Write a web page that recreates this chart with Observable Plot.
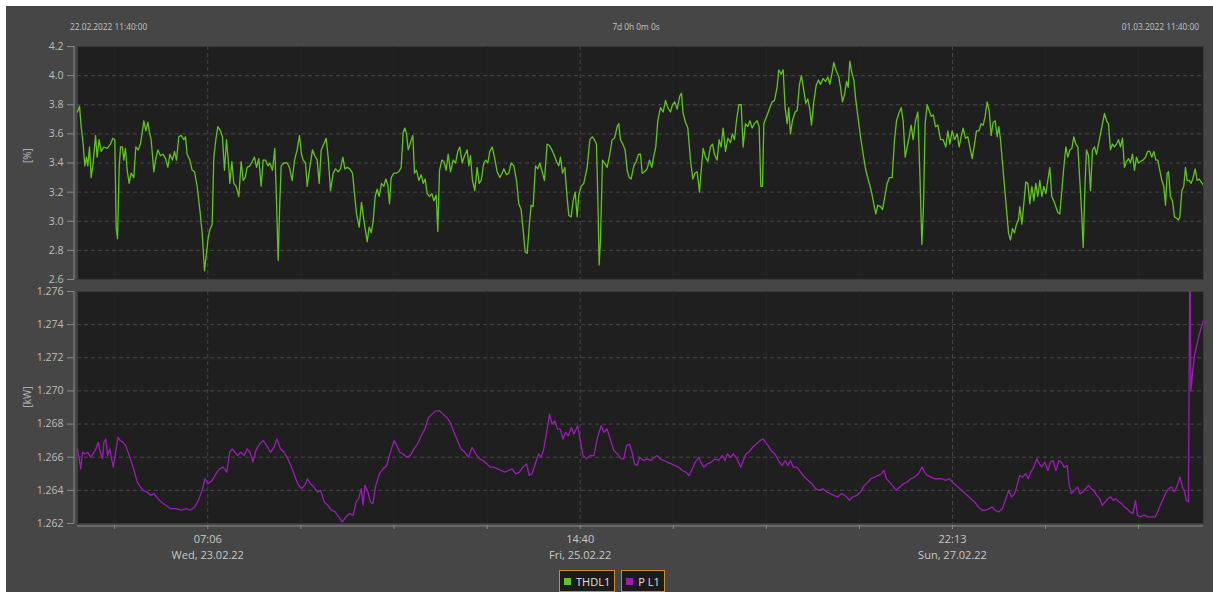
<!DOCTYPE html>
<html><head><meta charset="utf-8">
<script src="https://cdn.jsdelivr.net/npm/d3@7"></script>
<script src="https://cdn.jsdelivr.net/npm/@observablehq/plot@0.6"></script>
<style>
body{margin:0;background:#fff;width:1213px;height:592px;overflow:hidden;position:relative;font-family:"Segoe UI","Open Sans","Noto Sans",sans-serif;}
#bg{position:absolute;left:6px;top:6px;width:1207px;height:586px;background:#464646;}
.hdr{position:absolute;top:21px;font-size:8.3px;color:#c4c4c4;white-space:nowrap;line-height:12px;}
#top,#bottom{position:absolute;left:0;}
#top{top:0}#bottom{top:282px}
#legend{position:absolute;left:559px;top:570px;display:flex;gap:6px;}
.item{box-sizing:border-box;height:22px;border:1.5px solid #c98a2c;background:#1b1b1b;color:#e0e0e0;font-size:11px;display:flex;align-items:center;padding:0 4px;gap:5px;}
.sw{width:7px;height:7px;display:inline-block}
</style></head>
<body>
<div id="bg"></div>
<div id="top"></div>
<div id="bottom"></div>
<div class="hdr" id="hStart" style="left:70px"></div>
<div class="hdr" id="hSpan" style="left:636px;transform:translateX(-50%)"></div>
<div class="hdr" id="hEnd" style="right:14px"></div>
<div id="legend"></div>
<script>
// ---------- data ----------
const startTime = "2022-02-22T11:40:00Z";
const endTime = "2022-03-01T11:40:00Z";
const headerTexts = ["22.02.2022 11:40:00", "7d 0h 0m 0s", "01.03.2022 11:40:00"];
const seriesNames = ["THDL1", "P L1"];
const seriesUnits = ["[%]", "[kW]"];
const seriesColors = ["#62c41e", "#9b1db6"];
const thdTicks = [2.6, 2.8, 3.0, 3.2, 3.4, 3.6, 3.8, 4.0, 4.2];
const pTicks = [1.262, 1.264, 1.266, 1.268, 1.270, 1.272, 1.274, 1.276];
const majorTickTimes = ["2022-02-23T07:06:00Z", "2022-02-25T14:40:00Z", "2022-02-27T22:13:00Z"];
const majorTickLabels = ["07:06\nWed, 23.02.22", "14:40\nFri, 25.02.22", "22:13\nSun, 27.02.22"];
const minorTickTimes = ["2022-02-22T17:13:00Z", "2022-02-23T21:00:00Z", "2022-02-24T10:53:00Z", "2022-02-25T00:47:00Z",
  "2022-02-26T04:33:00Z", "2022-02-26T18:26:00Z", "2022-02-27T08:20:00Z", "2022-02-28T12:06:00Z", "2022-03-01T01:59:00Z"];
// [hours since start, THD %]
const thd = [
[0,3.75],[0.30,3.79],[0.55,3.65],[0.85,3.53],[1.09,3.38],[1.34,3.44],[1.54,3.38],[1.79,3.51],[2.04,3.30],[2.34,3.40],[2.69,3.59],[2.93,3.44],[3.23,3.56],[3.53,3.48],[3.93,3.51],[4.43,3.50],[4.92,3.53],[5.27,3.57],[5.57,3.56],[5.77,2.96],[5.97,2.88],[6.22,3.37],[6.42,3.51],[6.71,3.51],[6.91,3.42],[7.16,3.50],[7.41,3.35],[7.71,3.26],[8.01,3.33],[8.40,3.30],[8.70,3.51],[9.05,3.49],[9.40,3.53],[9.90,3.69],[10.20,3.62],[10.49,3.68],[10.74,3.61],[10.99,3.56],[11.39,3.34],[11.64,3.42],[11.99,3.49],[12.38,3.45],[12.78,3.46],[13.13,3.43],[13.48,3.37],[13.78,3.46],[14.17,3.42],[14.47,3.48],[14.77,3.42],[15.12,3.58],[15.47,3.59],[15.87,3.56],[16.11,3.58],[16.36,3.46],[16.76,3.42],[17.11,3.35],[17.46,3.34],[17.85,3.24],[18.25,3.08],[18.60,2.92],[18.95,2.66],[19.25,2.78],[19.45,2.87],[19.74,2.94],[20.09,2.98],[20.34,3.44],[20.64,3.56],[20.94,3.65],[21.34,3.62],[21.63,3.58],[21.93,3.35],[22.23,3.56],[22.53,3.40],[22.73,3.26],[23.03,3.41],[23.32,3.26],[23.67,3.24],[24.07,3.17],[24.42,3.41],[24.72,3.28],[25.02,3.30],[25.31,3.37],[25.71,3.38],[26.06,3.41],[26.41,3.44],[26.71,3.37],[27.05,3.43],[27.40,3.24],[27.70,3.42],[28.05,3.42],[28.40,3.38],[28.70,3.40],[29.09,3.35],[29.44,3.50],[29.69,3.14],[29.94,2.73],[30.19,3.14],[30.39,3.38],[30.79,3.40],[31.28,3.40],[31.63,3.37],[32.03,3.28],[32.38,3.42],[32.77,3.49],[33.12,3.59],[33.42,3.46],[33.67,3.42],[34.02,3.40],[34.27,3.24],[34.66,3.37],[35.06,3.49],[35.41,3.45],[35.76,3.42],[36.06,3.26],[36.36,3.49],[36.75,3.53],[37.10,3.57],[37.40,3.44],[37.75,3.21],[38.15,3.33],[38.49,3.36],[38.89,3.34],[39.24,3.36],[39.59,3.44],[39.89,3.36],[40.24,3.37],[40.63,3.36],[41.03,3.33],[41.33,3.19],[41.63,3.05],[42.03,2.96],[42.37,3.13],[42.72,3.01],[43.02,2.92],[43.22,2.86],[43.52,2.96],[43.82,2.92],[44.11,3.00],[44.41,3.17],[44.71,3.22],[45.01,3.17],[45.36,3.26],[45.71,3.24],[46.00,3.29],[46.30,3.25],[46.55,3.12],[46.80,3.30],[47.20,3.33],[47.55,3.33],[47.94,3.34],[48.29,3.37],[48.59,3.61],[48.84,3.64],[49.09,3.60],[49.34,3.49],[49.68,3.54],[50.03,3.59],[50.28,3.33],[50.58,3.35],[50.93,3.28],[51.28,3.32],[51.57,3.26],[51.87,3.29],[52.17,3.19],[52.52,3.17],[52.87,3.19],[53.17,3.14],[53.51,3.18],[53.76,2.93],[54.01,3.35],[54.36,3.42],[54.66,3.41],[55.01,3.35],[55.30,3.46],[55.65,3.34],[56.05,3.42],[56.40,3.40],[56.75,3.48],[57.04,3.51],
[57.39,3.40],[57.74,3.45],[58.14,3.49],[58.39,3.38],[58.63,3.45],[58.93,3.28],[59.28,3.21],[59.63,3.37],[59.93,3.26],[60.23,3.28],[60.62,3.40],[60.92,3.42],[61.22,3.40],[61.52,3.48],[61.87,3.51],[62.21,3.44],[62.61,3.34],[63.01,3.30],[63.36,3.33],[63.61,3.36],[64.00,3.32],[64.35,3.33],[64.70,3.40],[65.10,3.38],[65.50,3.28],[65.84,3.12],[66.19,3.08],[66.49,2.94],[66.79,2.79],[67.09,2.78],[67.39,2.96],[67.68,3.11],[67.98,3.10],[68.33,3.38],[68.68,3.36],[68.98,3.40],[69.33,3.34],[69.67,3.28],[70.07,3.53],[70.42,3.52],[70.77,3.49],[71.07,3.46],[71.46,3.41],[71.81,3.38],[72.06,3.44],[72.36,3.33],[72.71,3.37],[72.96,3.21],[73.30,3.04],[73.65,3.03],[73.95,3.14],[74.25,3.20],[74.55,3.03],[74.80,3.18],[75.14,3.24],[75.54,3.26],[76.04,3.37],[76.44,3.56],[76.79,3.58],[77.13,3.56],[77.43,3.53],[77.63,3.17],[77.83,2.70],[78.03,2.87],[78.33,3.42],[78.63,3.40],[79.02,3.37],[79.42,3.46],[79.77,3.56],[80.12,3.57],[80.52,3.65],[80.76,3.67],[81.01,3.56],[81.36,3.53],[81.71,3.49],[82.01,3.35],[82.31,3.30],[82.60,3.29],[83.00,3.38],[83.35,3.41],[83.70,3.46],[84.00,3.46],[84.25,3.33],[84.59,3.34],[84.99,3.36],[85.34,3.42],[85.69,3.37],[85.99,3.45],[86.28,3.51],[86.58,3.69],[86.98,3.78],[87.38,3.75],[87.73,3.83],[88.07,3.78],[88.47,3.75],[88.77,3.80],[89.12,3.82],[89.47,3.77],[89.86,3.86],[90.11,3.88],[90.36,3.74],[90.71,3.68],[91.06,3.64],[91.46,3.42],[91.80,3.29],[92.10,3.33],[92.45,3.34],[92.80,3.20],[93.10,3.37],[93.35,3.50],[93.69,3.44],[94.04,3.41],[94.44,3.51],[94.74,3.53],[95.04,3.46],[95.43,3.42],[95.73,3.56],[96.03,3.51],[96.33,3.64],[96.68,3.48],[97.03,3.57],[97.42,3.54],[97.72,3.60],[98.02,3.56],[98.32,3.69],[98.67,3.80],[99.02,3.80],[99.31,3.51],[99.66,3.67],[100.01,3.65],[100.31,3.69],[100.66,3.64],[101.00,3.67],[101.40,3.69],[101.70,3.65],[101.95,3.24],[102.20,3.24],[102.40,3.67],[102.64,3.70],[102.99,3.74],[103.29,3.78],[103.64,3.82],[103.99,3.83],[104.38,3.92],[104.63,4.04],[104.98,4.01],[105.28,4.04],[105.58,3.78],[105.88,3.67],[106.12,3.78],[106.37,3.60],[106.67,3.69],[107.07,3.75],[107.37,3.76],[107.72,3.94],[108.01,4.00],[108.36,3.90],[108.66,3.81],[108.96,3.84],[109.26,3.77],[109.51,3.66],[109.85,3.82],[110.20,3.93],[110.55,3.97],[110.85,3.94],[111.25,3.98],[111.60,3.96],[111.95,3.99],[112.24,3.94],[112.59,4.02],[112.84,4.09],[113.14,4.04],[113.44,4.01],
[113.59,3.99],[113.84,3.92],[114.14,3.82],[114.44,3.87],[114.74,3.96],[114.99,3.92],[115.23,4.10],[115.53,4.02],[115.83,3.97],[116.13,3.83],[116.43,3.72],[116.83,3.58],[117.22,3.46],[117.62,3.35],[118.02,3.28],[118.42,3.21],[118.81,3.12],[119.11,3.05],[119.41,3.11],[119.81,3.10],[120.11,3.08],[120.46,3.17],[120.80,3.26],[121.15,3.30],[121.55,3.30],[121.90,3.56],[122.20,3.69],[122.54,3.74],[122.89,3.78],[123.19,3.69],[123.49,3.44],[123.79,3.51],[124.09,3.58],[124.38,3.66],[124.68,3.56],[125.03,3.69],[125.38,3.75],[125.68,3.33],[125.98,2.84],[126.22,3.10],[126.47,3.67],[126.77,3.80],[127.07,3.76],[127.37,3.72],[127.67,3.73],[128.01,3.65],[128.36,3.66],[128.76,3.56],[129.16,3.56],[129.56,3.51],[129.85,3.62],[130.15,3.53],[130.50,3.62],[130.85,3.56],[131.25,3.60],[131.55,3.51],[131.84,3.58],[132.14,3.64],[132.49,3.57],[132.84,3.58],[133.14,3.51],[133.49,3.43],[133.83,3.53],[134.13,3.62],[134.48,3.62],[134.83,3.67],[135.13,3.66],[135.42,3.72],[135.72,3.82],[136.02,3.76],[136.32,3.59],[136.62,3.68],[136.92,3.69],[137.22,3.58],[137.46,3.65],[137.71,3.56],[138.01,3.40],[138.31,3.24],[138.61,3.08],[138.91,2.92],[139.20,2.87],[139.50,2.95],[139.80,2.92],[140.10,2.98],[140.40,3.01],[140.60,3.10],[140.90,2.98],[141.19,3.12],[141.49,3.27],[141.79,3.26],[142.09,3.12],[142.39,3.24],[142.69,3.14],[142.98,3.26],[143.28,3.17],[143.58,3.28],[143.88,3.17],[144.18,3.24],[144.48,3.19],[144.77,3.28],[145.07,3.37],[145.37,3.17],[145.67,3.14],[145.97,3.10],[146.27,3.06],[146.56,3.05],[146.86,3.21],[147.16,3.37],[147.46,3.51],[147.76,3.44],[148.06,3.49],[148.36,3.50],[148.65,3.58],[148.95,3.53],[149.25,3.51],[149.55,3.28],[149.85,3.03],[150.05,2.82],[150.29,3.21],[150.54,3.49],[150.84,3.45],[151.14,3.21],[151.44,3.49],[151.74,3.51],[152.03,3.46],[152.33,3.53],[152.63,3.60],[152.93,3.67],[153.23,3.74],[153.53,3.69],[153.82,3.67],[154.12,3.49],[154.42,3.53],[154.72,3.51],[155.02,3.53],[155.32,3.56],[155.62,3.51],[155.91,3.57],[156.21,3.37],[156.51,3.41],[156.81,3.43],[157.11,3.40],[157.41,3.46],[157.70,3.35],[158.00,3.44],[158.30,3.40],[158.60,3.41],[158.99,3.42],[159.34,3.44],[159.69,3.48],[159.99,3.48],[160.29,3.44],[160.59,3.48],[160.89,3.42],[161.18,3.42],[161.48,3.35],[161.78,3.28],[162.08,3.24],[162.33,3.11],[162.58,3.33],[162.78,3.34],[163.07,3.17],[163.37,3.14],[163.67,3.03],[163.97,3.02],[164.27,3.01],[164.47,3.03],[164.77,3.21],[165.06,3.24],[165.31,3.37],[165.56,3.28],[165.86,3.28],[166.16,3.26],[166.46,3.30],[166.75,3.36],[167.05,3.28],[167.35,3.29],[167.65,3.27],[167.95,3.25]
];
// [hours since start, P kW]
const pl1 = [
[0,1.2665],[0.26,1.2659],[0.47,1.2653],[0.74,1.2663],[1.12,1.2662],[1.56,1.2663],[1.94,1.2660],[2.32,1.2662],[2.75,1.2665],[3.08,1.2669],[3.40,1.2663],[3.73,1.2659],[3.94,1.2669],[4.22,1.2671],[4.49,1.2661],[4.81,1.2665],[5.08,1.2659],[5.35,1.2654],[5.68,1.2663],[6.05,1.2672],[6.38,1.2670],[6.82,1.2669],[7.20,1.2667],[7.63,1.2662],[8.07,1.2657],[8.50,1.2651],[8.93,1.2645],[9.37,1.2642],[9.80,1.2640],[10.34,1.2639],[10.89,1.2637],[11.43,1.2638],[11.97,1.2635],[12.51,1.2633],[13.16,1.2631],[13.87,1.2629],[14.68,1.2629],[15.50,1.2628],[16.20,1.2629],[16.85,1.2628],[17.50,1.2630],[18.04,1.2634],[18.59,1.2640],[19.02,1.2647],[19.45,1.2644],[20.10,1.2646],[20.65,1.2650],[21.19,1.2653],[21.73,1.2654],[22.27,1.2651],[22.71,1.2663],[23.09,1.2665],[23.47,1.2663],[23.90,1.2661],[24.33,1.2663],[24.88,1.2661],[25.31,1.2665],[25.74,1.2663],[26.18,1.2657],[26.61,1.2664],[27.16,1.2668],[27.70,1.2670],[28.24,1.2667],[28.78,1.2663],[29.32,1.2666],[29.76,1.2671],[30.30,1.2665],[30.84,1.2663],[31.38,1.2659],[31.82,1.2655],[32.31,1.2650],[32.85,1.2644],[33.39,1.2641],[33.93,1.2643],[34.31,1.2647],[34.75,1.2644],[35.29,1.2642],[35.83,1.2639],[36.27,1.2640],[36.81,1.2633],[37.35,1.2631],[37.89,1.2628],[38.43,1.2627],[38.98,1.2624],[39.52,1.2621],[40.06,1.2624],[40.60,1.2626],[41.14,1.2625],[41.58,1.2633],[41.96,1.2635],[42.34,1.2641],[42.61,1.2631],[42.88,1.2643],[43.32,1.2639],[43.70,1.2633],[44.07,1.2632],[44.51,1.2643],[45.05,1.2650],[45.59,1.2653],[46.13,1.2655],[46.68,1.2663],[47.22,1.2670],[47.65,1.2667],[48.09,1.2663],[48.58,1.2662],[49.12,1.2660],[49.66,1.2661],[50.20,1.2665],[50.74,1.2668],[51.28,1.2673],[51.83,1.2677],[52.37,1.2684],[52.91,1.2686],[53.45,1.2688],[53.99,1.2688],[54.53,1.2686],[55.08,1.2684],[55.62,1.2681],[56.16,1.2675],[56.70,1.2670],[57.24,1.2665],[57.79,1.2663],[58.33,1.2660],[58.88,1.2666],[59.42,1.2662],[59.96,1.2659],[60.50,1.2658],[61.05,1.2656],[61.59,1.2654],[62.13,1.2654],[62.67,1.2653],[63.22,1.2652],[63.76,1.2651],[64.30,1.2652],[64.84,1.2653],[65.39,1.2650],[65.93,1.2651],[66.47,1.2654],[67.01,1.2656],[67.39,1.2649],[67.83,1.2650],[68.37,1.2657],[68.80,1.2662],[69.18,1.2660],[69.56,1.2665],[70.00,1.2675],[70.43,1.2686],[70.81,1.2680],[71.19,1.2682],[71.62,1.2677],[72.06,1.2677],[72.44,1.2671],[72.82,1.2675],[73.25,1.2673],[73.68,1.2678],[74.06,1.2674],[74.61,1.2679],[74.98,1.2671],[75.42,1.2661],[75.96,1.2659],[76.50,1.2661],[77.05,1.2661],[77.59,1.2672],[78.13,1.2679],[78.56,1.2675],[79.00,1.2677],[79.49,1.2671],[80.03,1.2664],[80.57,1.2662],[81.11,1.2659],[81.49,1.2659],[81.93,1.2667],[82.36,1.2668],[82.74,1.2663],[83.12,1.2656],
[83.51,1.2655],[83.89,1.2660],[84.44,1.2658],[84.99,1.2659],[85.55,1.2658],[86.10,1.2660],[86.48,1.2661],[86.93,1.2659],[87.48,1.2658],[88.03,1.2657],[88.58,1.2656],[89.13,1.2655],[89.69,1.2654],[90.24,1.2652],[90.79,1.2651],[91.23,1.2649],[91.62,1.2652],[92.17,1.2657],[92.72,1.2660],[93.00,1.2657],[93.44,1.2654],[93.99,1.2656],[94.54,1.2657],[95.10,1.2659],[95.65,1.2658],[96.20,1.2661],[96.59,1.2658],[96.97,1.2662],[97.41,1.2660],[97.86,1.2662],[98.41,1.2659],[98.96,1.2654],[99.35,1.2658],[99.73,1.2662],[100.17,1.2663],[100.73,1.2666],[101.28,1.2668],[101.83,1.2670],[102.27,1.2671],[102.66,1.2669],[103.04,1.2667],[103.49,1.2664],[104.04,1.2662],[104.59,1.2658],[105.14,1.2655],[105.58,1.2658],[105.97,1.2655],[106.36,1.2658],[106.80,1.2654],[107.35,1.2654],[107.90,1.2651],[108.45,1.2648],[109.01,1.2646],[109.56,1.2644],[110.11,1.2641],[110.66,1.2640],[111.21,1.2641],[111.77,1.2639],[112.32,1.2638],[112.87,1.2637],[113.42,1.2636],[113.97,1.2638],[114.53,1.2637],[115.19,1.2634],[115.63,1.2636],[116.29,1.2637],[116.84,1.2639],[117.40,1.2643],[117.95,1.2645],[118.39,1.2647],[118.94,1.2648],[119.49,1.2649],[119.94,1.2650],[120.32,1.2652],[120.71,1.2647],[121.15,1.2645],[121.59,1.2643],[122.14,1.2640],[122.70,1.2642],[123.25,1.2644],[123.80,1.2645],[124.35,1.2647],[124.90,1.2648],[125.46,1.2650],[126.01,1.2654],[126.39,1.2651],[126.78,1.2649],[127.33,1.2648],[127.88,1.2647],[128.44,1.2647],[128.99,1.2647],[129.54,1.2646],[130.09,1.2647],[130.53,1.2645],[131.09,1.2643],[131.64,1.2641],[132.19,1.2639],[132.74,1.2637],[133.29,1.2635],[133.85,1.2633],[134.40,1.2630],[134.95,1.2628],[135.50,1.2628],[136.05,1.2629],[136.50,1.2630],[136.88,1.2628],[137.43,1.2627],[137.99,1.2629],[138.54,1.2635],[138.92,1.2640],[139.37,1.2636],[139.81,1.2638],[140.19,1.2643],[140.58,1.2649],[141.02,1.2648],[141.46,1.2650],[141.85,1.2647],[142.24,1.2651],[142.68,1.2654],[143.12,1.2659],[143.51,1.2656],[143.89,1.2654],[144.33,1.2657],[144.78,1.2652],[145.16,1.2657],[145.55,1.2658],[145.99,1.2652],[146.43,1.2658],[146.82,1.2657],[147.20,1.2654],[147.65,1.2655],[147.98,1.2643],[148.31,1.2638],[148.75,1.2640],[149.19,1.2642],[149.58,1.2638],[149.97,1.2639],[150.41,1.2641],[150.85,1.2643],[151.24,1.2641],[151.62,1.2640],[152.07,1.2637],[152.51,1.2635],[152.89,1.2631],[153.33,1.2633],[153.72,1.2635],[154.16,1.2636],[154.55,1.2634],[154.93,1.2635],[155.37,1.2633],[155.82,1.2632],[156.20,1.2630],[156.59,1.2629],[157.03,1.2627],[157.47,1.2626],[157.86,1.2634],[158.13,1.2625],[158.58,1.2624],[159.13,1.2625],[159.68,1.2624],[160.23,1.2624],[160.78,1.2624],[161.17,1.2627],[161.56,1.2631],[162.00,1.2635],[162.44,1.2639],[162.83,1.2641],[163.21,1.2642],[163.65,1.2639],[164.10,1.2643],[164.48,1.2648],[164.87,1.2642],[165.20,1.2639],[165.42,1.2634],[165.75,1.2633],[165.97,1.2790],[166.12,1.2700],[166.41,1.2713],[166.69,1.2722],[167.24,1.2732],[167.79,1.2740],[168.0,1.2743]
];

// ---------- helpers ----------
const t0 = new Date(startTime), t1 = new Date(endTime);
const toDate = h => new Date(+t0 + h * 3600000);
const majors = majorTickTimes.map((t, i) => ({date: new Date(t), label: majorTickLabels[i]}));
const majorDates = majors.map(d => d.date);
const minorDates = minorTickTimes.map(t => new Date(t));
const allTickDates = [...minorDates, ...majorDates];
const FONT = '"Segoe UI","Open Sans","Noto Sans",sans-serif';
const GRID = "#474747", AXIS = "#8a8a8a", TXT = "#bdbdbd";

function panel({data, color, yDomain, yTicks, fmt, unit, height, marginTop, marginBottom, xAxis}) {
  const marks = [
    Plot.frame({fill: "#1f1f1f", stroke: "#3a3a3a"}),
    Plot.gridX({ticks: minorDates, stroke: "#252525", strokeOpacity: 1}),
    Plot.gridY({ticks: yTicks.slice(1, -1), stroke: GRID, strokeOpacity: 1, strokeDasharray: "4,3"}),
    Plot.gridX({ticks: majorDates, stroke: GRID, strokeOpacity: 1, strokeDasharray: "4,3"}),
    Plot.line(data, {x: d => toDate(d[0]), y: d => d[1], stroke: color, strokeWidth: 1.3, clip: true}),
    Plot.ruleX([t0], {dx: -3.5, stroke: AXIS}),
    Plot.axisY({ticks: yTicks, tickFormat: fmt, tickSize: 7, tickPadding: 4, dx: -3, stroke: AXIS, fill: TXT, label: null}),
    Plot.text([unit], {frameAnchor: "left", dx: -50, rotate: -90, fill: TXT, fontSize: 10})
  ];
  if (xAxis) {
    marks.push(
      Plot.ruleY([yDomain[0]], {dy: 2.5, stroke: AXIS}),
      Plot.axisX({ticks: allTickDates, tickSize: 4, tickFormat: () => "", dy: 2, stroke: AXIS, label: null}),
      Plot.text(majors, {x: "date", text: "label", frameAnchor: "bottom", dy: 9, lineAnchor: "top", lineHeight: 1.4, fill: "#c8c8c8", fontSize: 11})
    );
  }
  return Plot.plot({
    width: 1213, height, marginLeft: 77, marginRight: 10, marginTop, marginBottom,
    style: {background: "transparent", color: TXT, fontFamily: FONT, fontSize: "10.5px", overflow: "visible"},
    x: {type: "utc", domain: [t0, t1], axis: null},
    y: {domain: yDomain, axis: null},
    marks
  });
}

document.getElementById("top").append(panel({
  data: thd, color: seriesColors[0], yDomain: [2.6, 4.2], yTicks: thdTicks,
  fmt: d => d.toFixed(1), unit: seriesUnits[0], height: 282, marginTop: 46, marginBottom: 3, xAxis: false
}));
document.getElementById("bottom").append(panel({
  data: pl1, color: seriesColors[1], yDomain: [1.262, 1.276], yTicks: pTicks,
  fmt: d => d.toFixed(3), unit: seriesUnits[1], height: 310, marginTop: 9, marginBottom: 69, xAxis: true
}));

document.getElementById("hStart").textContent = headerTexts[0];
document.getElementById("hSpan").textContent = headerTexts[1];
document.getElementById("hEnd").textContent = headerTexts[2];
const legend = document.getElementById("legend");
seriesNames.forEach((n, i) => {
  const it = document.createElement("div");
  it.className = "item";
  const sw = document.createElement("span");
  sw.className = "sw"; sw.style.background = seriesColors[i];
  const tx = document.createElement("span"); tx.textContent = n;
  it.append(sw, tx);
  legend.append(it);
});
</script>
</body></html>
